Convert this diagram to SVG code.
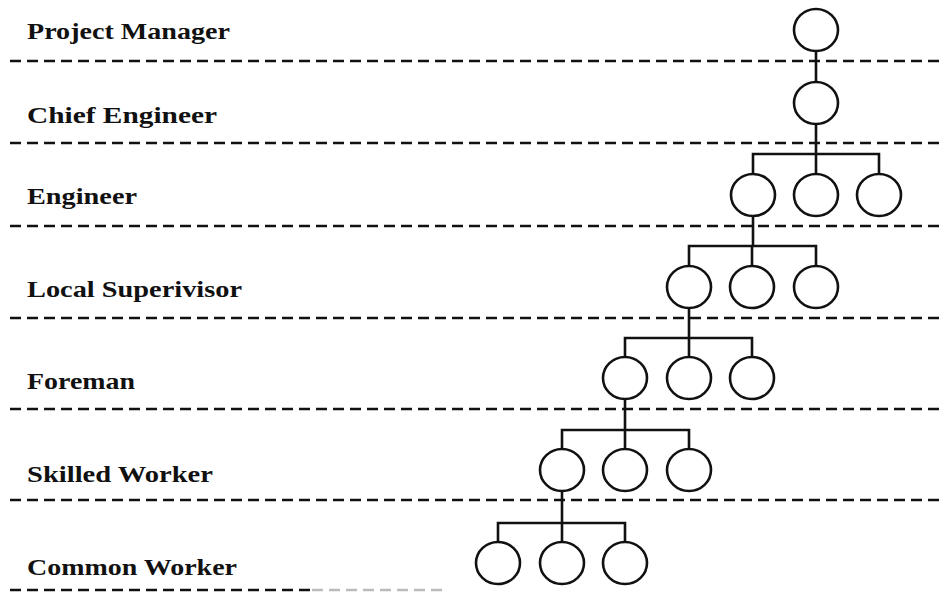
<svg xmlns="http://www.w3.org/2000/svg" width="944" height="592" viewBox="0 0 944 592">
<defs>
<style>
.bg{fill:#ffffff}
.dash{stroke:#111;stroke-width:2.6;stroke-dasharray:11 6;fill:none}
.dashf{stroke:#bbb;stroke-width:2.4;stroke-dasharray:11 6;fill:none}
.lbl{font-family:"Liberation Serif","Times New Roman",serif;font-weight:bold;font-size:23px;fill:#111}
.node ellipse{fill:#fff;stroke:#111;stroke-width:2.6}
.conn path{stroke:#111;stroke-width:2.6;fill:none}
</style>
</defs>
<rect class="bg" x="0" y="0" width="944" height="592"/>
<g id="levels">
<line class="dash" x1="10" y1="61" x2="944" y2="61"/>
<line class="dash" x1="10" y1="143" x2="944" y2="143"/>
<line class="dash" x1="10" y1="226" x2="944" y2="226"/>
<line class="dash" x1="10" y1="318" x2="944" y2="318"/>
<line class="dash" x1="10" y1="409" x2="944" y2="409"/>
<line class="dash" x1="10" y1="500" x2="944" y2="500"/>
<line class="dash" x1="10" y1="590" x2="312" y2="590"/>
<line class="dashf" x1="312" y1="590" x2="445" y2="590"/>
</g>
<g id="labels">
<text class="lbl" x="27" y="39" textLength="203" lengthAdjust="spacingAndGlyphs">Project Manager</text>
<text class="lbl" x="27" y="123" textLength="190" lengthAdjust="spacingAndGlyphs">Chief Engineer</text>
<text class="lbl" x="27" y="204" textLength="110" lengthAdjust="spacingAndGlyphs">Engineer</text>
<text class="lbl" x="27" y="297" textLength="215" lengthAdjust="spacingAndGlyphs">Local Superivisor</text>
<text class="lbl" x="27" y="389" textLength="108" lengthAdjust="spacingAndGlyphs">Foreman</text>
<text class="lbl" x="27" y="482" textLength="186" lengthAdjust="spacingAndGlyphs">Skilled Worker</text>
<text class="lbl" x="27" y="575" textLength="210" lengthAdjust="spacingAndGlyphs">Common Worker</text>
</g>
<g id="connectors" class="conn">
<path d="M816 51 V82"/>
<path d="M816 124 V154 M753 174 V154 H879 V174 M816 154 V174"/>
<path d="M753 216 V246 M689 266 V246 H816 V266 M752 246 V266"/>
<path d="M689 308 V338 M625 357 V338 H752 V357 M689 338 V357"/>
<path d="M625 399 V430 M562 449 V430 H689 V449 M625 430 V449"/>
<path d="M562 491 V523 M498 542 V523 H625 V542 M562 523 V542"/>
</g>
<g id="n-pm" class="node"><ellipse cx="816" cy="30" rx="22" ry="21"/></g>
<g id="n-ce" class="node"><ellipse cx="816" cy="103" rx="22" ry="21"/></g>
<g id="n-e1" class="node"><ellipse cx="753" cy="195" rx="22" ry="21"/></g>
<g id="n-e2" class="node"><ellipse cx="816" cy="195" rx="22" ry="21"/></g>
<g id="n-e3" class="node"><ellipse cx="879" cy="195" rx="22" ry="21"/></g>
<g id="n-ls1" class="node"><ellipse cx="689" cy="287" rx="22" ry="21"/></g>
<g id="n-ls2" class="node"><ellipse cx="752" cy="287" rx="22" ry="21"/></g>
<g id="n-ls3" class="node"><ellipse cx="816" cy="287" rx="22" ry="21"/></g>
<g id="n-f1" class="node"><ellipse cx="625" cy="378" rx="22" ry="21"/></g>
<g id="n-f2" class="node"><ellipse cx="689" cy="378" rx="22" ry="21"/></g>
<g id="n-f3" class="node"><ellipse cx="752" cy="378" rx="22" ry="21"/></g>
<g id="n-sw1" class="node"><ellipse cx="562" cy="470" rx="22" ry="21"/></g>
<g id="n-sw2" class="node"><ellipse cx="625" cy="470" rx="22" ry="21"/></g>
<g id="n-sw3" class="node"><ellipse cx="689" cy="470" rx="22" ry="21"/></g>
<g id="n-cw1" class="node"><ellipse cx="498" cy="563" rx="22" ry="21"/></g>
<g id="n-cw2" class="node"><ellipse cx="562" cy="563" rx="22" ry="21"/></g>
<g id="n-cw3" class="node"><ellipse cx="625" cy="563" rx="22" ry="21"/></g>
</svg>
